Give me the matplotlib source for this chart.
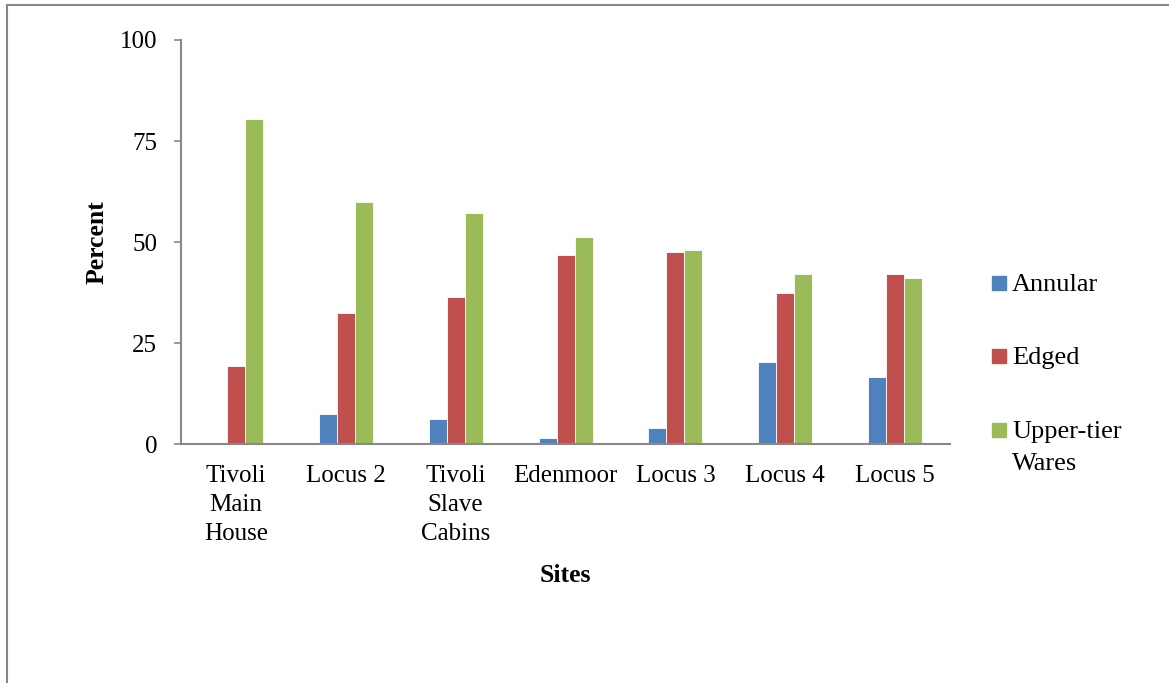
import numpy as np
import matplotlib.pyplot as plt
from matplotlib.patches import Rectangle

# Daten
sites = ["Tivoli\nMain\nHouse", "Locus 2", "Tivoli\nSlave\nCabins", "Edenmoor",
         "Locus 3", "Locus 4", "Locus 5"]
annular = [0.0, 7.4, 6.2, 1.6, 4.1, 20.4, 16.6]
edged = [19.3, 32.5, 36.5, 46.9, 47.6, 37.4, 42.2]
upper_tier = [80.5, 59.9, 57.2, 51.3, 48.1, 42.0, 41.1]

series = [("Annular", annular, "#4F81BD"),
          ("Edged", edged, "#C0504D"),
          ("Upper-tier\nWares", upper_tier, "#9BBB59")]

plt.rcParams["font.family"] = ["Liberation Serif", "DejaVu Serif"]

W, H = 1169, 683
fig = plt.figure(figsize=(W / 100, H / 100), dpi=100)
ax = fig.add_axes([0.1548, 0.3495, 0.658, 0.592])

x = np.arange(len(sites))
w = 0.164
for i, (name, vals, col) in enumerate(series):
    ax.bar(x + (i - 1) * w, vals, w, color=col, edgecolor="white",
           linewidth=0.6, label=name)

ax.set_xlim(-0.5, len(sites) - 0.5)
ax.set_ylim(0, 100)
ax.set_yticks([0, 25, 50, 75, 100])
ax.set_xticks(x)
ax.set_xticklabels(sites, linespacing=1.4)
ax.tick_params(axis="x", length=0, pad=15, labelsize=18)
ax.tick_params(axis="y", length=5, width=1.2, color="#888888", pad=12, labelsize=18)

for s in ["top", "right"]:
    ax.spines[s].set_visible(False)
for s in ["left", "bottom"]:
    ax.spines[s].set_color("#888888")
    ax.spines[s].set_linewidth(1.5)

ax.set_ylabel("Percent", fontsize=18.5, fontweight="bold", labelpad=8)
ax.set_xlabel("Sites", fontsize=18.5, fontweight="bold", labelpad=14)

# Legende von Hand (Kästchen auf Höhe der ersten Textzeile)
leg_y = [283, 356, 430]
for (name, vals, col), yc in zip(series, leg_y):
    fig.add_artist(Rectangle((992 / W, 1 - (yc + 7) / H), 14 / W, 14 / H,
                             color=col, transform=fig.transFigure))
    fig.text(1012 / W, 1 - (yc - 9) / H, name, fontsize=19, va="top",
             ha="left", linespacing=1.6)

# Rahmen um die Grafik (links und oben)
fig.add_artist(plt.Line2D([0.006, 0.006], [0, 0.993], color="#888888", lw=1.5,
                          transform=fig.transFigure))
fig.add_artist(plt.Line2D([0.006, 1.0], [0.993, 0.993], color="#888888", lw=1.5,
                          transform=fig.transFigure))

fig.savefig("out.png", dpi=100)
